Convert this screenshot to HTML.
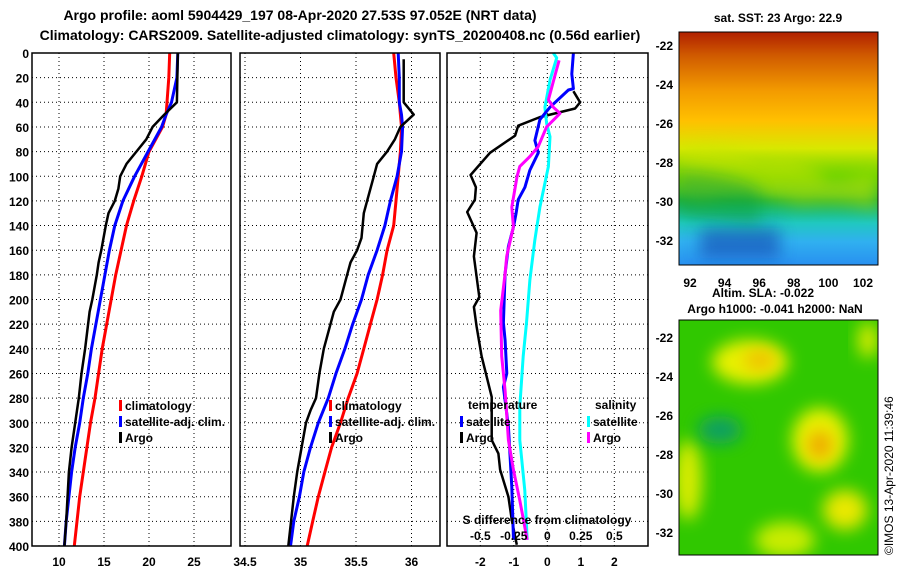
<!DOCTYPE html>
<html><head><meta charset="utf-8"><style>
html,body{margin:0;padding:0;background:#fff;}
svg text{font-family:"Liberation Sans",sans-serif;font-weight:bold;fill:#000;}
</style></head><body>
<svg id="chart" width="900" height="580" xmlns="http://www.w3.org/2000/svg">
<defs>
<linearGradient id="sstg" x1="0" y1="0" x2="0" y2="1">
<stop offset="0" stop-color="#b02000"/><stop offset="0.1" stop-color="#d05a00"/><stop offset="0.25" stop-color="#f39a00"/><stop offset="0.38" stop-color="#ffc000"/><stop offset="0.5" stop-color="#d8e800"/><stop offset="0.62" stop-color="#5cd000"/><stop offset="0.72" stop-color="#10b040"/><stop offset="0.82" stop-color="#20c8c0"/><stop offset="0.9" stop-color="#30b0f0"/><stop offset="1" stop-color="#2890f0"/>
</linearGradient>
<filter id="bl" x="-50%" y="-50%" width="200%" height="200%"><feGaussianBlur stdDeviation="8"/></filter>
<clipPath id="c1"><rect x="679" y="32" width="199" height="233"/></clipPath>
<clipPath id="c2"><rect x="679" y="320" width="199" height="235"/></clipPath>
</defs>
<text x="300" y="20" font-size="14" text-anchor="middle">Argo profile: aoml 5904429_197 08-Apr-2020 27.53S 97.052E (NRT data)</text>
<text x="340" y="40" font-size="14" text-anchor="middle">Climatology: CARS2009. Satellite-adjusted climatology: synTS_20200408.nc (0.56d earlier)</text>
<g id="grids"></g>
<g id="series"></g>
<g id="frames"></g>
<g id="labels"></g>
<!-- maps -->
<g clip-path="url(#c1)">
<rect x="679" y="32" width="199" height="233" fill="url(#sstg)"/>
<path d="M679 150 Q720 140 760 160 Q800 150 830 180 Q860 175 878 170 L878 210 Q840 200 800 205 Q750 190 700 200 L679 195Z" fill="#c8e400" opacity="0.6" filter="url(#bl)"/>
<path d="M679 170 Q740 175 760 190 L760 225 L679 215Z" fill="#10a040" opacity="0.5" filter="url(#bl)"/>
<rect x="700" y="228" width="80" height="30" fill="#1030a0" opacity="0.5" filter="url(#bl)"/>
</g>
<g clip-path="url(#c2)">
<rect x="679" y="320" width="199" height="235" fill="#30c800"/>
<ellipse cx="750" cy="362" rx="38" ry="22" fill="#e8f000" filter="url(#bl)"/>
<ellipse cx="760" cy="360" rx="16" ry="10" fill="#f0c000" filter="url(#bl)"/>
<ellipse cx="820" cy="440" rx="28" ry="32" fill="#e8f000" filter="url(#bl)"/>
<ellipse cx="820" cy="445" rx="12" ry="14" fill="#f0a800" filter="url(#bl)"/>
<ellipse cx="845" cy="510" rx="22" ry="20" fill="#e8e800" filter="url(#bl)"/>
<ellipse cx="688" cy="480" rx="14" ry="40" fill="#d8ec00" filter="url(#bl)"/>
<ellipse cx="785" cy="540" rx="30" ry="18" fill="#c8ec00" filter="url(#bl)"/>
<ellipse cx="720" cy="430" rx="22" ry="14" fill="#10a060" filter="url(#bl)"/>
<ellipse cx="868" cy="340" rx="10" ry="18" fill="#d8ec00" filter="url(#bl)"/>
</g>
<rect x="679" y="32" width="199" height="233" fill="none" stroke="#000"/>
<rect x="679" y="320" width="199" height="235" fill="none" stroke="#000"/>
<text x="778" y="22" font-size="12" text-anchor="middle">sat. SST: 23 Argo: 22.9</text>
<text x="763" y="297" font-size="12" text-anchor="middle">Altim. SLA: -0.022</text>
<text x="775" y="313" font-size="12" text-anchor="middle">Argo h1000: -0.041 h2000: NaN</text>
<text transform="translate(893,555) rotate(-90)" font-size="12" font-weight="normal" style="font-weight:normal">©IMOS 13-Apr-2020 11:39:46</text>
<g id="maplabels"></g>
</svg>
<script>
// ---- data ----
const tickDepths=[0,20,40,60,80,100,120,140,160,180,200,220,240,260,280,300,320,340,360,380,400];
const tTicks=[10,15,20,25];
const sTicks=[34.5,35,35.5,36];
const dTicks=[-2,-1,0,1,2];
const sdTicks=[-0.5,-0.25,0,0.25,0.5];
const sdTickLabels=["-0.5","-0.25","0","0.25","0.5"];
const climDepth=[0,20,40,50,60,80,100,120,140,160,180,200,220,240,260,280,300,320,340,360,380,400];
const climT=[22.3,22.2,22.0,21.9,21.5,20.0,19.2,18.3,17.5,16.9,16.3,15.8,15.3,14.8,14.4,14.0,13.5,13.1,12.7,12.3,12.0,11.7];
const satT=[23.2,23.1,22.5,21.9,21.4,19.9,18.4,17.1,16.2,15.6,15.1,14.6,14.1,13.6,13.2,12.7,12.3,11.8,11.4,11.1,10.8,10.6];
const climS=[35.84,35.86,35.89,35.90,35.91,35.90,35.88,35.86,35.84,35.78,35.74,35.69,35.63,35.57,35.51,35.43,35.36,35.28,35.22,35.16,35.11,35.06];
const satS=[35.88,35.89,35.89,35.91,35.92,35.91,35.87,35.81,35.76,35.69,35.61,35.55,35.47,35.40,35.32,35.25,35.16,35.09,35.03,34.99,34.94,34.91];
const argoDepthT=[0,40,50,60,70,80,90,100,110,120,130,140,160,170,180,200,210,240,260,280,300,320,340,380,400];
const argoT=[23.2,23.1,21.7,20.4,19.7,18.6,17.5,16.8,16.6,16.2,15.5,15.2,14.7,14.4,14.2,13.7,13.4,12.9,12.5,12.2,11.8,11.4,11.1,10.8,10.6];
const argoDepthS=[5,40,50,60,70,80,90,100,120,130,150,160,170,180,200,210,220,240,260,280,290,300,320,340,360,400];
const argoS=[35.93,35.93,36.02,35.90,35.85,35.78,35.69,35.66,35.60,35.57,35.55,35.51,35.45,35.42,35.36,35.30,35.27,35.21,35.17,35.14,35.09,35.05,35.01,34.97,34.94,34.89];
const dSatTDepth=[0,17,29,30,44,54,71,81,95,109,119,130,141,157,179,219,233,260,271,303,352,395];
const dSatT=[0.78,0.73,0.78,0.63,0.08,-0.22,-0.37,-0.27,-0.52,-0.67,-0.87,-0.93,-1.01,-1.16,-1.26,-1.31,-1.26,-1.21,-1.31,-1.16,-1.06,-1.01];
const dArgoTDepth=[31,40,45,52,59,67,81,99,109,119,129,146,165,198,206,222,246,279,314,325,338,360,379,399];
const dArgoT=[0.78,0.98,0.83,-0.22,-0.87,-0.96,-1.71,-2.29,-2.13,-2.16,-2.39,-2.11,-2.19,-2.03,-2.19,-2.11,-1.96,-1.66,-1.66,-1.46,-1.41,-1.16,-1.06,-0.91];
const dSatSDepth=[0,4,22,44,57,68,92,125,152,184,219,246,287,314,355,395];
const dSatS=[0.045,0.07,0.02,-0.018,-0.005,0.02,0.008,-0.055,-0.093,-0.13,-0.155,-0.18,-0.205,-0.205,-0.168,-0.15];
const dArgoSDepth=[6,19,38,44,49,60,76,84,92,100,125,141,165,179,209,246,274,314,338,363,395];
const dArgoS=[0.088,0.055,0.008,0.045,0.095,-0.005,-0.068,-0.13,-0.205,-0.225,-0.265,-0.253,-0.303,-0.315,-0.348,-0.34,-0.315,-0.29,-0.253,-0.205,-0.15];
const latTicks=[-22,-24,-26,-28,-30,-32];
const lonTicks=[92,94,96,98,100,102];

// ---- scales ----
const yD=d=>53+d*1.2325;
const xT=t=>59+(t-10)*9;
const xS=s=>245+(s-34.5)*111;
const xDf=v=>547.3+v*33.5;
const xSf=s=>xDf(s*4);
const NS="http://www.w3.org/2000/svg";
function mk(tag,attrs,parent,txt){const e=document.createElementNS(NS,tag);for(const k in attrs)e.setAttribute(k,attrs[k]);if(txt!==undefined)e.textContent=txt;document.getElementById(parent).appendChild(e);return e;}
const panels=[{x0:32,x1:231,n:"temperature"},{x0:240,x1:440,n:"salinity"},{x0:447,x1:648,n:"difference"}];
const Y0=53,Y1=546;
// grids
panels.forEach((p,i)=>{
 tickDepths.forEach(d=>{
  const g=mk('line',{x1:p.x0,x2:p.x1,y1:yD(d),y2:yD(d),stroke:'#000','stroke-dasharray':'1,3','stroke-width':1},'grids');
  
  
 });
 const f=mk('rect',{x:p.x0,y:Y0,width:p.x1-p.x0,height:Y1-Y0,fill:'none',stroke:'#000','stroke-width':1.5},'frames');
 
 
});
function vgrid(vals,fx,labels){vals.forEach((v,i)=>{const x=fx(v);
 const g=mk('line',{x1:x,x2:x,y1:Y0,y2:Y1,stroke:'#000','stroke-dasharray':'1,3'},'grids');
 
 
 const t=mk('text',{x:x,y:566,'font-size':12,'text-anchor':'middle'},'labels',labels?labels[i]:String(v));
 
 
});}
vgrid(tTicks,xT);vgrid(sTicks,xS);vgrid(dTicks,xDf);
sdTicks.forEach((v,i)=>{const t=mk('text',{x:xSf(v),y:540,'font-size':12,'text-anchor':'middle'},'labels',sdTickLabels[i]);
 
 });
const sl=mk('text',{x:547,y:524,'font-size':12,'text-anchor':'middle'},'labels','S difference from climatology');


tickDepths.forEach(d=>{const t=mk('text',{x:29,y:yD(d)+5,'font-size':12,'text-anchor':'end'},'labels',String(d));
 
 });
// series
function line(xs,ds,fx,color,name,w){const pts=xs.map((v,i)=>fx(v).toFixed(1)+','+yD(ds[i]).toFixed(1)).join(' ');
 const l=mk('polyline',{points:pts,fill:'none',stroke:color,'stroke-width':w||3,'stroke-linejoin':'round'},'series');
 
 }
line(climT,climDepth,xT,'#ff0000','temp-climatology-line');
line(satT,climDepth,xT,'#0000ff','temp-satellite-line');
line(argoT,argoDepthT,xT,'#000','temp-argo-line',2.5);
line(climS,climDepth,xS,'#ff0000','sal-climatology-line');
line(satS,climDepth,xS,'#0000ff','sal-satellite-line');
line(argoS,argoDepthS,xS,'#000','sal-argo-line',2.5);
line(dArgoT,dArgoTDepth,xDf,'#000','temp-diff-argo-line',2.5);
line(dSatS,dSatSDepth,xSf,'#00ffff','sal-diff-satellite-line');
line(dSatT,dSatTDepth,xDf,'#0000ff','temp-diff-satellite-line');
line(dArgoS,dArgoSDepth,xSf,'#ff00ff','sal-diff-argo-line');
// legends
function leg(x,y,color,txt,name){const r=mk('rect',{x:x,y:y-9,width:3,height:11,fill:color},'labels');
 
 
 const t=mk('text',{x:x+6,y:y+1,'font-size':12},'labels',txt);
 
 }
[[119,'t'],[329,'s']].forEach(([x,k])=>{leg(x,409,'#ff0000','climatology','legend-climatology-'+k);leg(x,425,'#0000ff','satellite-adj. clim.','legend-satellite-'+k);leg(x,441,'#000','Argo','legend-argo-'+k);});
const lt=mk('text',{x:468,y:409,'font-size':12},'labels','temperature');


const ls=mk('text',{x:595,y:409,'font-size':12},'labels','salinity');


leg(460,425,'#0000ff','satellite','legend-temp-satellite');leg(460,441,'#000','Argo','legend-temp-argo');
leg(587,425,'#00ffff','satellite','legend-sal-satellite');leg(587,441,'#ff00ff','Argo','legend-sal-argo');
// map labels
latTicks.forEach((v,i)=>{
 const a=mk('text',{x:673,y:50+i*39,'font-size':12,'text-anchor':'end'},'maplabels',String(v));
 
 
 const b=mk('text',{x:673,y:342+i*39,'font-size':12,'text-anchor':'end'},'maplabels',String(v));
 
 
});
lonTicks.forEach((v,i)=>{
 const a=mk('text',{x:690+i*34.6,y:287,'font-size':12,'text-anchor':'middle'},'maplabels',String(v));
 
 
});
</script>
</body></html>
